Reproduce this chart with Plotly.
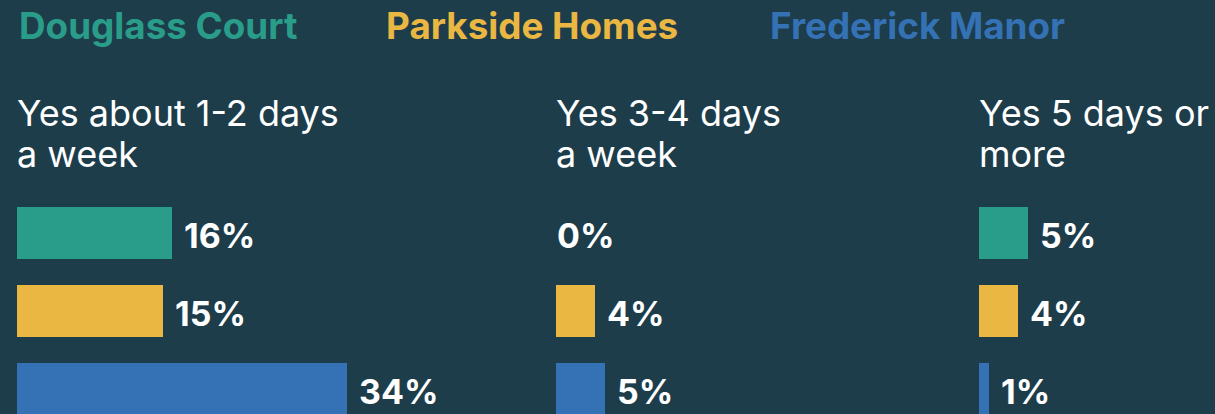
import plotly.graph_objects as go

# ---- data ----
sites = ["Douglass Court", "Parkside Homes", "Frederick Manor"]
site_colors = ["#2a9d8a", "#e9b742", "#3572b5"]
categories = ["Yes about 1-2 days<br>a week", "Yes 3-4 days<br>a week", "Yes 5 days or<br>more"]
douglass = [16, 0, 5]
parkside = [15, 4, 4]
frederick = [34, 5, 1]

BG = "#1d3d4b"
W, H = 1215, 414
FONT = "Inter"

panel_start_px = [17, 556, 979]
px_per_pct = 9.7
panel_end_px = [540, 965, W]

fig = go.Figure()
values_by_panel = [[douglass[i], parkside[i], frederick[i]] for i in range(3)]
ypos = [0, 1, 2]

for p in range(3):
    ax = "" if p == 0 else str(p + 1)
    vals = values_by_panel[p]
    fig.add_trace(go.Bar(
        x=vals, y=ypos, orientation="h",
        marker=dict(color=site_colors, line=dict(width=0)),
        width=0.667, xaxis="x" + ax, yaxis="y",
        hoverinfo="skip", showlegend=False,
    ))
    d0 = panel_start_px[p] / W
    d1 = panel_end_px[p] / W
    rng = (panel_end_px[p] - panel_start_px[p]) / px_per_pct
    fig.update_layout(**{
        "xaxis" + ax: dict(domain=[d0, d1], range=[0, rng], visible=False,
                           fixedrange=True, anchor="y")
    })
    for v, yy in zip(vals, ypos):
        fig.add_annotation(
            x=v, y=yy, xref="x" + ax, yref="y",
            text=f"{v}%", showarrow=False, xanchor="left", yanchor="middle",
            xshift=10 if v > 0 else -1, yshift=-2,
            font=dict(family=FONT, size=34, color="white", weight="bold"),
        )
    # category title (two lines)
    lines = categories[p].split("<br>")
    for li, (txt, cy) in enumerate(zip(lines, [113, 154])):
        fig.add_annotation(
            x=panel_start_px[p] / W, y=1 - cy / H, xref="paper", yref="paper",
            text=txt, showarrow=False, xanchor="left", yanchor="middle",
            xshift=-2,
            font=dict(family=FONT, size=36, color="white"),
        )

# site legend titles
site_x_px = [19, 386, 770]
for name, col, sx in zip(sites, site_colors, site_x_px):
    fig.add_annotation(
        x=sx / W, y=1 - 25 / H, xref="paper", yref="paper",
        text=name, showarrow=False, xanchor="left", yanchor="middle",
        xshift=-2,
        font=dict(family=FONT, size=36.8, color=col, weight="bold"),
    )

fig.update_layout(
    width=W, height=H,
    margin=dict(l=0, r=0, t=0, b=0),
    paper_bgcolor=BG, plot_bgcolor=BG,
    yaxis=dict(range=[(H - 233) / 78, -233 / 78], visible=False, fixedrange=True),
    bargap=0,
)

fig.write_html(
    "out.html",
    config={"displayModeBar": False},
    post_script="document.body.style.margin='0';document.body.style.overflow='hidden';",
)
